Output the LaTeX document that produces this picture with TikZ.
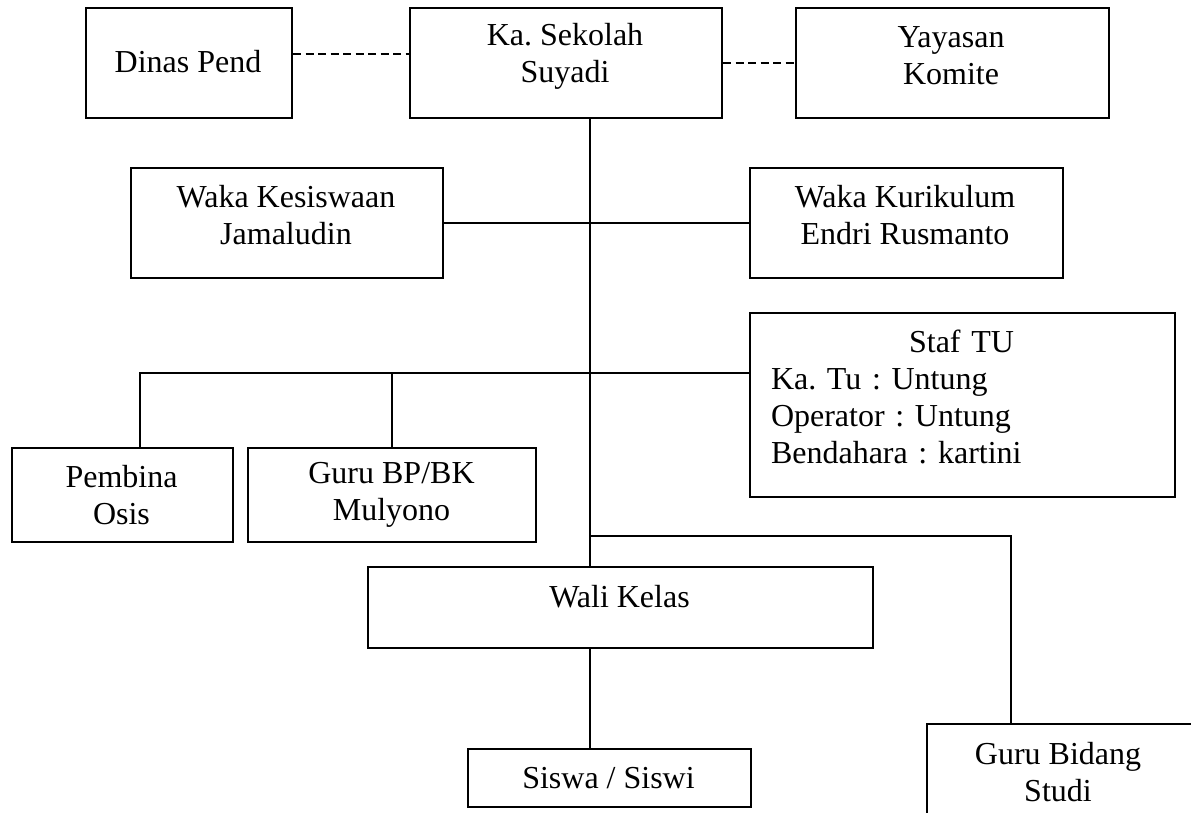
\documentclass[tikz,border=0pt]{standalone}
\usepackage{fontspec}
\setmainfont{Liberation Serif}
\frenchspacing
\begin{document}
\begin{tikzpicture}[x=1pt,y=-1pt,
  box/.style={draw, line width=2pt, anchor=north west, inner sep=0pt},
  txt/.style={font=\fontsize{32pt}{37pt}\selectfont\frenchspacing, align=center, inner sep=0pt},
  conn/.style={line width=2pt},
  dashconn/.style={line width=2pt, dash pattern=on 8pt off 4.5pt}]
\useasboundingbox (0,0) rectangle (1191,813);
\clip (0,0) rectangle (1191,813);
% boxes
\node[box, minimum width=206pt, minimum height=110pt] (dinas) at (85,7) {};
\node[box, minimum width=312pt, minimum height=110pt] (ks) at (409,7) {};
\node[box, minimum width=313pt, minimum height=110pt] (yay) at (795,7) {};
\node[box, minimum width=312pt, minimum height=110pt] (wkes) at (130,167) {};
\node[box, minimum width=313pt, minimum height=110pt] (wkur) at (749,167) {};
\node[box, minimum width=425pt, minimum height=184pt] (staf) at (749,312) {};
\node[box, minimum width=221pt, minimum height=94pt] (pemb) at (11,447) {};
\node[box, minimum width=288pt, minimum height=94pt] (bp) at (247,447) {};
\node[box, minimum width=505pt, minimum height=81pt] (wali) at (367,566) {};
\node[box, minimum width=283pt, minimum height=58pt] (siswa) at (467,748) {};
\node[box, minimum width=270pt, minimum height=120pt] (guru) at (926,723) {};
% texts
\node[txt] (dinas-t) at (188,62) {Dinas Pend};
\node[txt] (ks-t) at (565,56) {Ka. Sekolah\\Suyadi};
\node[txt] (yay-t) at (951,56) {Yayasan\\Komite};
\node[txt] (wkes-t) at (286,215) {Waka Kesiswaan\\Jamaludin};
\node[txt] (wkur-t) at (905,215) {Waka Kurikulum\\Endri Rusmanto};
\node[txt, align=left, text width=381pt] (staf-t) at (961.5,397)
  {\makebox[381pt]{Staf TU}\\Ka. Tu : Untung\\Operator : Untung\\Bendahara : kartini};
\node[txt] (pemb-t) at (121.5,495) {Pembina\\Osis};
\node[txt] (bp-t) at (391.5,495) {Guru BP/BK\\Mulyono};
\node[txt] (wali-t) at (619.5,597) {Wali Kelas};
\node[txt] (siswa-t) at (608.5,778) {Siswa / Siswi};
\node[txt] (guru-t) at (1058,772) {Guru Bidang\\Studi};
% junctions
\coordinate (j1) at (590,536);
\coordinate (hub) at ([yshift=32pt]staf.west);
% connectors
\draw[dashconn] ([yshift=9pt]dinas.east) -- ([yshift=9pt]dinas.east -| ks.west);
\draw[dashconn] (ks.east) -- (yay.west);
\draw[conn] (ks.south -| j1) -- (wali.north -| j1);
\draw[conn] (wkes.east) -- (wkur.west);
\draw[conn] ([xshift=17.5pt]pemb.north) |- (hub);
\draw[conn] (bp.north) -- (bp.north |- hub);
\draw[conn] (j1) -| ([xshift=-51pt]guru.north);
\draw[conn] (wali.south -| j1) -- (siswa.north -| j1);
\end{tikzpicture}
\end{document}
